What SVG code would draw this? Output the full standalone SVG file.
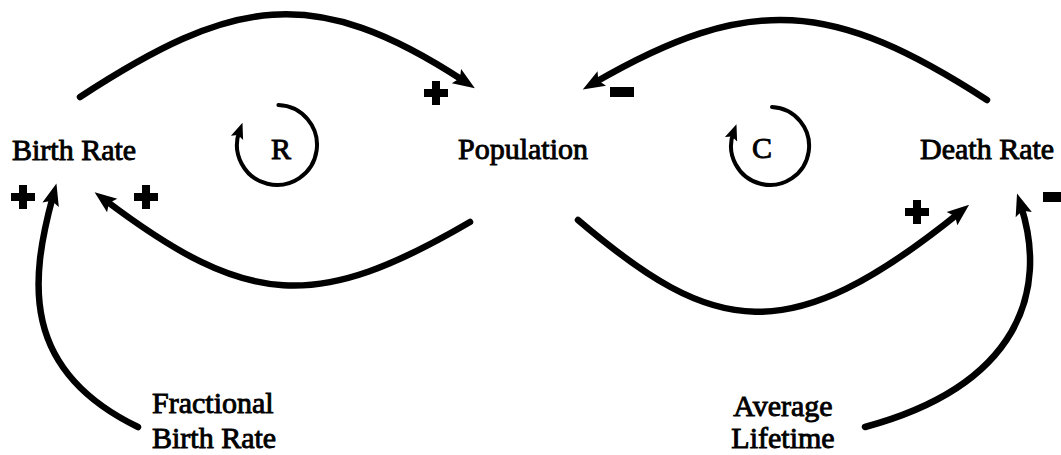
<svg xmlns="http://www.w3.org/2000/svg" width="1061" height="455" viewBox="0 0 1061 455">
<style>
  text { font-family: 'Liberation Serif', 'DejaVu Serif', serif; font-size: 30px; fill: #000; stroke: #000; stroke-width: 0.9px; }
  .link { fill: none; stroke: #000; stroke-width: 6.5; stroke-linecap: round; marker-end: url(#ah); }
  .loop { fill: none; stroke: #000; stroke-width: 4; stroke-linecap: round; marker-end: url(#lah); }
  .sign { fill: #000; }
</style>
<defs>
  <marker id="ah" markerUnits="userSpaceOnUse" markerWidth="40" markerHeight="40" viewBox="-20 -20 40 40" refX="0" refY="0" orient="auto" overflow="visible">
    <path d="M13,0 L-9,-8.5 L-5,0 L-9,8.5 Z" fill="#000"/>
  </marker>
  <marker id="lah" markerUnits="userSpaceOnUse" markerWidth="30" markerHeight="30" viewBox="-15 -15 30 30" refX="0" refY="0" orient="auto" overflow="visible">
    <path d="M9,0 L-7,-6.5 L-4,0 L-7,6.5 Z" fill="#000"/>
  </marker>
  <path id="plus" d="M-4,-12 h8 v8 h8 v8 h-8 v8 h-8 v-8 h-8 v-8 h8 z"/>
  <rect id="minus" x="-12" y="-5" width="24" height="10"/>
</defs>
<rect width="1061" height="455" fill="#fff"/>

<g id="connectors">
  <path id="birth-to-pop" class="link" d="M80,97 C232,-2 313,-18 464,81"/>
  <path id="death-to-pop" class="link" d="M987,100 C834,1 751,-8 594,83"/>
  <path id="pop-to-birth" class="link" d="M470,222 C316,312 248,308 105,200"/>
  <path id="pop-to-death" class="link" d="M578,220 C714,336 788,351 959,213"/>
  <path id="fbr-to-birth" class="link" d="M138,427 C20,370 30,280 53,196"/>
  <path id="life-to-death" class="link" d="M865,427 C1020,385 1048,290 1021,206"/>
</g>

<g id="polarities" class="sign">
  <use href="#plus" x="436" y="93"/>
  <use href="#minus" x="622" y="92"/>
  <use href="#plus" x="23" y="197"/>
  <use href="#plus" x="146" y="197"/>
  <use href="#plus" x="917" y="212"/>
  <use href="#minus" x="1055" y="197"/>
</g>

<g id="loop-R">
  <path class="loop" d="M278.4,105 A40,40 0 1,1 239.4,131.3"/>
  <text x="281" y="159" text-anchor="middle">R</text>
</g>
<g id="loop-C">
  <path class="loop" d="M772,107 A39,39 0 1,1 733.4,132.7"/>
  <text x="762" y="158" text-anchor="middle">C</text>
</g>

<g id="birth-rate"><text x="12" y="160">Birth Rate</text></g>
<g id="population"><text x="458" y="159">Population</text></g>
<g id="death-rate"><text x="920" y="159">Death Rate</text></g>
<g id="fractional-birth-rate">
  <text x="152" y="413">Fractional</text>
  <text x="152" y="448">Birth Rate</text>
</g>
<g id="average-lifetime">
  <text x="783" y="416" text-anchor="middle">Average</text>
  <text x="783" y="448" text-anchor="middle">Lifetime</text>
</g>
</svg>
